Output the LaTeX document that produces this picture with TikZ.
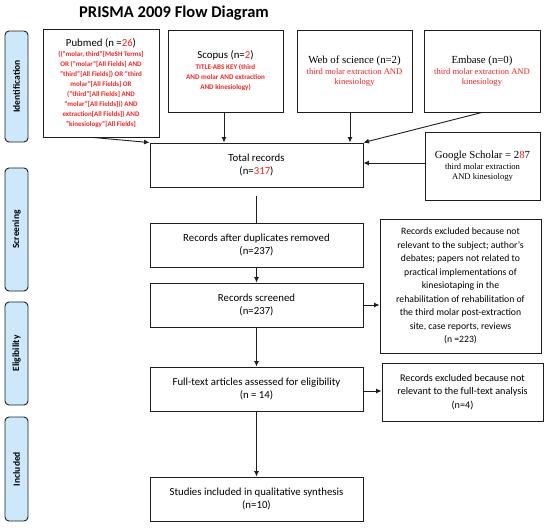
\documentclass[tikz,border=0pt]{standalone}
\usepackage{fontspec}
\setmainfont{Carlito}
\newfontfamily\timesf{Liberation Serif}
\usetikzlibrary{arrows.meta,calc}
\definecolor{redt}{RGB}{250,35,35}
\definecolor{sideblue}{RGB}{204,232,250}
\definecolor{linec}{RGB}{30,30,30}
\newcommand{\ttl}[1]{{\color{black}\mdseries\fontsize{10.8}{12}\selectfont #1}}
\begin{document}
\begin{tikzpicture}[x=1pt,y=-1pt,
  box/.style={draw=linec, line width=0.9pt, inner sep=1pt, align=center,
    font=\fontsize{10.8}{13.5}\selectfont},
  side/.style={draw=linec, line width=0.9pt, fill=sideblue, rounded corners=4pt,
    rotate=90, inner sep=0pt, minimum height=23pt, font=\bfseries\fontsize{9.5}{10}\selectfont},
  arr/.style={draw=linec, line width=0.9pt, -{Latex[length=5.5pt,width=5pt]}},
  ln/.style={draw=linec, line width=0.9pt}]
\useasboundingbox (0,0) rectangle (550,528);
\fill[white] (0,0) rectangle (550,528);

\node[font=\bfseries\fontsize{16.5}{18}\selectfont] (title) at (174,13) {PRISMA 2009 Flow Diagram};

% side labels
\node[side, minimum width=111pt] (sid) at (16.5,86.5) {Identification};
\node[side, minimum width=123pt] (ssc) at (16.5,229.5) {Screening};
\node[side, minimum width=103pt] (sel) at (16.5,353.5) {Eligibility};
\node[side, minimum width=104pt] (sin) at (16.5,469) {Included};

% identification boxes
\node[box, minimum width=116pt, minimum height=108pt, text=redt,
  font=\bfseries\fontsize{7}{10}\selectfont] (pub) at (101,83)
  {\ttl{Pubmed (n =\textcolor{redt}{26})}\\[0.5pt]
   (("molar, third"[MeSH Terms]\\
   OR ("molar"[All Fields] AND\\
   "third"[All Fields]) OR "third\\
   molar"[All Fields] OR\\
   ("third"[All Fields] AND\\
   "molar"[All Fields])) AND\\
   extraction[All Fields]) AND\\
   "kinesiology"[All Fields]};
\node[box, minimum width=115pt, minimum height=82pt, text=redt,
  font=\bfseries\fontsize{7.1}{10}\selectfont] (sco) at (225.5,71)
  {\ttl{Scopus (n=\textcolor{redt}{2})}\\[1pt]
   TITLE-ABS KEY (third\\
   AND molar AND extraction\\
   AND kinesiology)};
\node[box, minimum width=115pt, minimum height=82pt, text=redt,
  font=\timesf\fontsize{8.6}{10}\selectfont] (wos) at (354.5,71)
  {\ttl{Web of science (n=2)}\\[1pt]
   third molar extraction AND\\
   kinesiology};
\node[box, minimum width=116pt, minimum height=82pt, text=redt,
  font=\timesf\fontsize{8.6}{10}\selectfont] (emb) at (482,71)
  {\ttl{Embase (n=0)}\\[1pt]
   third molar extraction AND\\
   kinesiology};

\node[box, minimum width=213pt, minimum height=44pt] (tot) at (256.5,165)
  {Total records\\(n=\textcolor{redt}{317})};
\node[box, minimum width=115pt, minimum height=68pt,
  font=\timesf\fontsize{8.6}{10}\selectfont] (gs) at (482.5,166)
  {\ttl{Google Scholar = 2\textcolor{redt}{8}7}\\[1pt]
   third molar extraction\\
   AND kinesiology};

\node[box, minimum width=213pt, minimum height=44pt] (dup) at (256.5,245)
  {Records after duplicates removed\\(n=237)};
\node[box, minimum width=213pt, minimum height=44pt] (scr) at (256.5,305)
  {Records screened\\(n=237)};
\node[box, minimum width=161pt, minimum height=134pt,
  font=\fontsize{9.7}{13.5}\selectfont] (exa) at (460.5,286)
  {Records excluded because not\\
   relevant to the subject; author’s\\
   debates; papers not related to\\
   practical implementations of\\
   kinesiotaping in the\\
   rehabilitation of rehabilitation of\\
   the third molar post-extraction\\
   site, case reports, reviews\\
   (n =223)};
\node[box, minimum width=213pt, minimum height=44pt] (ft) at (256.5,389)
  {Full-text articles assessed for eligibility\\(n = 14)};
\node[box, minimum width=161pt, minimum height=58pt,
  font=\fontsize{10.2}{13.5}\selectfont] (exb) at (462.5,392)
  {Records excluded because not\\
   relevant to the full-text analysis\\
   (n=4)};
\node[box, minimum width=213pt, minimum height=44pt] (inc) at (256.5,499)
  {Studies included in qualitative synthesis\\(n=10)};

% connector helper points
\coordinate (pubB) at ($(pub.south)+(-8,0)$);
\coordinate (scoB) at ($(sco.south)+(-1.5,0)$);
\coordinate (wosB) at ($(wos.south)+(-4.5,0)$);
\coordinate (gsL)  at ($(gs.west)+(0,-3)$);
\coordinate (totB) at ($(tot.south)+(0,9)$);
\coordinate (ftR)  at ($(ft.east)+(0,2)$);

% connectors
\draw[arr] (pubB) -- (tot.north west);
\draw[arr] (scoB) -- (scoB |- tot.north);
\draw[arr] (wosB) -- (wosB |- tot.north);
\draw[arr] (emb.south) -- (tot.north east);
\draw[arr] (gsL) -- (gsL -| tot.east);
\draw[ln] (totB) -- (dup.north);
\draw[arr] (dup.south) -- (scr.north);
\draw[arr] (scr.south) -- (ft.north);
\draw[arr] (scr.east) -- (scr.east -| exa.west);
\draw[arr] (ftR) -- (ftR -| exb.west);
\draw[arr] (ft.south) -- (inc.north);
\end{tikzpicture}
\end{document}
